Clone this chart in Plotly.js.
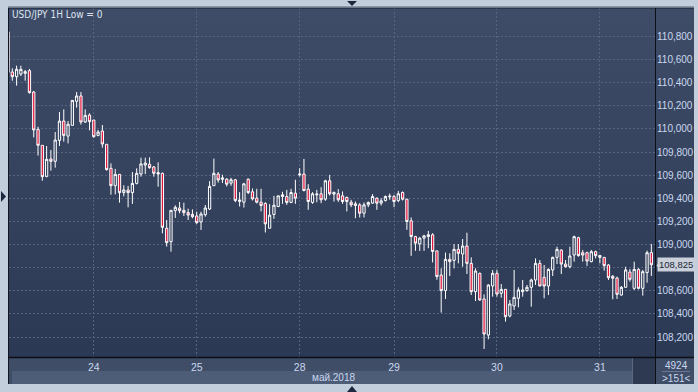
<!DOCTYPE html>
<html><head><meta charset="utf-8">
<script src="https://cdn.plot.ly/plotly-3.0.1.min.js"></script>
<style>
html,body{margin:0;padding:0;background:#c3cedc;width:698px;height:392px;overflow:hidden;}
#bg{position:absolute;left:9px;top:8px;width:685px;height:349px;background:linear-gradient(#3f4c67,#2c3954);}
#band1{position:absolute;left:9px;top:357px;width:685px;height:27px;background:#3f4d67;}
#band2{position:absolute;left:12px;top:371px;width:620px;height:13px;background:#4d5c77;}
#thumb{position:absolute;left:632px;top:358px;width:23px;height:26px;background:#2d3a52;border-left:1px solid #5a6783;box-sizing:border-box;}
#chart{position:absolute;left:0;top:0;width:698px;height:392px;}
#deco{position:absolute;left:0;top:0;pointer-events:none;}
</style></head>
<body>
<div id="bg"></div><div id="band1"></div><div id="band2"></div><div id="thumb"></div>
<div id="chart"></div>
<svg id="deco" width="698" height="392">
<polygon points="347,1 357,1 352,6" fill="#1c2740"/>
<polygon points="347,392 357,392 352,386" fill="#1c2740"/>
<polygon points="1,191 1,202 6,196.5" fill="#1c2740"/>
</svg>
<script>
// USD/JPY 1H candles (bar 0 is partly cut at the left edge)
const open = [110.840,110.492,110.452,110.475,110.481,110.504,110.319,109.996,109.858,109.587,
109.740,109.720,109.901,110.068,109.938,110.031,110.239,110.285,110.060,110.120,
110.077,109.944,109.982,109.867,109.659,109.509,109.607,109.449,109.472,109.449,
109.529,109.610,109.688,109.694,109.671,109.622,109.616,109.140,109.025,109.293,
109.316,109.296,109.276,109.261,109.247,109.195,109.258,109.307,109.509,109.610,
109.564,109.565,109.531,109.560,109.373,109.366,109.565,109.456,109.401,109.366,
109.355,109.141,109.260,109.329,109.415,109.415,109.364,109.444,109.603,109.609,
109.479,109.364,109.430,109.439,109.392,109.551,109.436,109.439,109.421,109.407,
109.366,109.352,109.343,109.271,109.343,109.358,109.401,109.358,109.381,109.413,
109.415,109.381,109.450,109.392,109.205,109.069,109.006,109.055,109.069,109.084,
108.945,108.736,108.601,108.872,108.863,108.958,108.918,108.987,108.837,108.592,
108.751,108.529,108.217,108.641,108.751,108.578,108.612,108.382,108.468,108.535,
108.592,108.601,108.630,108.693,108.837,108.716,108.641,108.780,108.889,108.952,
108.831,108.808,108.909,109.059,108.929,108.929,108.852,108.938,108.906,108.889,
108.823,108.725,108.710,108.563,108.630,108.762,108.621,108.785,108.621,108.757,
108.930];
const high = [110.850,110.524,110.547,110.547,110.510,110.519,110.328,110.019,109.858,109.852,
109.818,109.973,110.146,110.169,110.068,110.250,110.319,110.319,110.169,110.135,
110.077,109.991,110.034,109.867,109.702,109.654,109.607,109.512,109.507,109.627,
109.659,109.751,109.751,109.754,109.679,109.711,109.622,109.212,109.296,109.339,
109.368,109.362,109.310,109.304,109.284,109.284,109.342,109.549,109.743,109.627,
109.604,109.574,109.577,109.565,109.453,109.534,109.571,109.485,109.482,109.482,
109.366,109.349,109.421,109.421,109.456,109.473,109.482,109.560,109.660,109.741,
109.522,109.453,109.473,109.496,109.560,109.603,109.459,109.479,109.459,109.415,
109.387,109.372,109.358,109.364,109.372,109.436,109.407,109.401,109.424,109.441,
109.430,109.464,109.459,109.392,109.234,109.075,109.064,109.084,109.118,109.098,
108.945,108.794,108.930,108.924,109.004,109.004,109.048,109.102,108.889,108.794,
108.757,108.569,108.656,108.780,108.780,108.658,108.612,108.520,108.780,108.630,
108.693,108.650,108.705,108.880,108.866,108.823,108.794,108.895,108.981,108.958,
108.866,108.981,109.077,109.068,108.953,108.938,108.953,108.947,108.909,108.889,
108.829,108.736,108.722,108.641,108.808,108.788,108.852,108.794,108.780,108.947,
109.004];
const low = [110.480,110.417,110.374,110.458,110.417,110.305,109.927,109.769,109.552,109.587,
109.639,109.665,109.852,109.890,109.875,110.031,110.184,110.037,110.051,109.988,
109.924,109.936,109.838,109.639,109.431,109.434,109.362,109.417,109.322,109.351,
109.520,109.587,109.610,109.656,109.587,109.500,109.097,108.982,108.938,109.230,
109.270,109.247,109.212,109.227,109.178,109.126,109.241,109.299,109.509,109.535,
109.532,109.502,109.508,109.366,109.329,109.320,109.436,109.381,109.355,109.286,
109.104,109.141,109.222,109.323,109.352,109.343,109.358,109.352,109.588,109.459,
109.300,109.352,109.366,109.358,109.378,109.424,109.372,109.369,109.352,109.286,
109.323,109.228,109.234,109.234,109.323,109.352,109.300,109.338,109.372,109.387,
109.323,109.366,109.381,109.127,108.902,108.945,108.945,108.945,108.968,108.845,
108.695,108.411,108.529,108.728,108.794,108.837,108.808,108.745,108.563,108.511,
108.514,108.096,108.180,108.549,108.549,108.540,108.333,108.370,108.434,108.457,
108.549,108.592,108.462,108.650,108.641,108.535,108.563,108.728,108.831,108.745,
108.800,108.794,108.852,108.895,108.852,108.814,108.846,108.880,108.837,108.774,
108.693,108.526,108.529,108.558,108.627,108.679,108.607,108.612,108.558,108.670,
108.728];
const close = [110.490,110.452,110.516,110.515,110.495,110.314,109.991,109.858,109.587,109.737,
109.720,109.904,110.068,109.944,110.040,110.247,110.285,110.060,110.117,110.063,
109.933,109.973,109.870,109.648,109.509,109.607,109.449,109.472,109.449,109.529,
109.616,109.697,109.705,109.665,109.616,109.610,109.149,109.016,109.296,109.322,
109.293,109.276,109.255,109.241,109.189,109.264,109.316,109.503,109.616,109.558,
109.576,109.522,109.560,109.381,109.384,109.525,109.450,109.395,109.366,109.338,
109.179,109.254,109.340,109.421,109.430,109.364,109.450,109.401,109.609,109.467,
109.372,109.439,109.436,109.387,109.551,109.439,109.450,109.387,109.372,109.372,
109.343,109.338,109.271,109.343,109.364,109.415,109.358,109.378,109.415,109.418,
109.372,109.439,109.392,109.199,109.069,109.012,109.055,109.075,109.084,108.940,
108.723,108.601,108.872,108.852,108.958,108.924,108.987,108.837,108.592,108.771,
108.520,108.226,108.650,108.751,108.572,108.612,108.376,108.486,108.543,108.607,
108.607,108.630,108.693,108.837,108.641,108.641,108.785,108.889,108.958,108.831,
108.808,108.901,109.068,108.904,108.909,108.857,108.938,108.904,108.889,108.817,
108.713,108.708,108.569,108.630,108.780,108.699,108.785,108.621,108.765,108.929,
108.825];
// first hourly bar of each trading day and its label
const dayStartBar = [20, 44, 68, 90, 114, 138];
const dayLabels = ['24', '25', '28', '29', '30', '31'];
const priceTicks = [108.2, 108.4, 108.6, 108.8, 109.0, 109.2, 109.4, 109.6, 109.8, 110.0, 110.2, 110.4, 110.6, 110.8];
const titleText = 'USD/JPY 1H Low = 0';
const monthLabel = 'май.2018';
const barCountLabel = '4924';
const visibleLabel = '>151<';

const barIndex = open.map((_, i) => i);
const lastClose = close[close.length - 1];
const fmt = v => v.toFixed(3).replace('.', ',');
// the 108,800 label sits under the last-price marker, as in the original
const priceTickText = priceTicks.map(v => Math.abs(v - lastClose) < 0.06 ? '' : fmt(v));
const FONT = "'Liberation Sans',Arial,sans-serif";
const FONT_C = "'DejaVu Sans Condensed','Liberation Sans',sans-serif";
const TXT = '#c9d8f0';

const trace = {
  type: 'candlestick', x: barIndex, open: open, high: high, low: low, close: close,
  increasing: {line: {color: '#ffffff', width: 1}, fillcolor: 'rgba(0,0,0,0)'},
  decreasing: {line: {color: '#ffffff', width: 1}, fillcolor: '#e0163d'},
  whiskerwidth: 0, hoverinfo: 'skip', showlegend: false
};

const W = 646, H = 349, L = 9, T = 8;
const px = v => (v - L) / W;          // pixel -> paper x
const py = v => (T + H - v) / H;      // pixel -> paper y

const layout = {
  width: 698, height: 392,
  margin: {l: L, r: 698 - L - W, t: T, b: 392 - T - H, pad: 0},
  paper_bgcolor: 'rgba(0,0,0,0)', plot_bgcolor: 'rgba(0,0,0,0)',
  boxgap: 0.25,
  showlegend: false,
  font: {family: FONT, size: 10, color: TXT},
  xaxis: {
    range: [0.23, 150.85], tickvals: dayStartBar, ticktext: dayLabels,
    showgrid: true, gridcolor: '#56647f', griddash: '2px,2px', gridwidth: 1,
    zeroline: false, showline: false, ticks: '', ticklen: 0, ticklabelstandoff: 2,
    tickfont: {family: FONT, size: 10.5, color: TXT},
    rangeslider: {visible: false}, fixedrange: true
  },
  yaxis: {
    side: 'right', range: [108.027, 111.046], tickvals: priceTicks, ticktext: priceTickText,
    showgrid: true, gridcolor: '#56647f', griddash: '2px,2px', gridwidth: 1,
    zeroline: false, showline: false, ticks: '', ticklabelstandoff: 1,
    tickfont: {family: FONT, size: 10, color: TXT}, fixedrange: true
  },
  shapes: [
    {type: 'line', xref: 'paper', yref: 'paper', x0: px(8), x1: px(694), y0: py(6.5), y1: py(6.5), line: {color: '#8d99ab', width: 1}},
    {type: 'line', xref: 'paper', yref: 'paper', x0: px(8), x1: px(694), y0: py(8), y1: py(8), line: {color: '#1a2131', width: 1}},
    {type: 'line', xref: 'paper', yref: 'paper', x0: px(8.5), x1: px(8.5), y0: py(8), y1: py(384), line: {color: '#111722', width: 1}},
    {type: 'line', xref: 'paper', yref: 'paper', x0: px(655.5), x1: px(655.5), y0: py(8), y1: py(384), line: {color: '#0c0f16', width: 1}},
    {type: 'line', xref: 'paper', yref: 'paper', x0: px(8), x1: px(694), y0: py(357.5), y1: py(357.5), line: {color: '#0c0f16', width: 1.5}},
    {type: 'line', xref: 'paper', yref: 'paper', x0: px(662), x1: px(690), y0: py(371.5), y1: py(371.5), line: {color: '#6c7893', width: 1}},
    {type: 'path', xref: 'paper', yref: 'paper',
     path: 'M ' + px(656.5) + ' ' + py(265.5) + ' L ' + px(660) + ' ' + py(260.5) + ' L ' + px(660) + ' ' + py(270.5) + ' Z',
     fillcolor: '#c9d0da', line: {width: 0}}
  ],
  annotations: [
    {xref: 'paper', yref: 'paper', x: px(10), y: py(15), xanchor: 'left', yanchor: 'middle', showarrow: false,
     text: titleText, font: {family: FONT_C, size: 10, color: '#dde5f0'}},
    {xref: 'paper', yref: 'paper', x: px(333.5), y: py(377), xanchor: 'center', yanchor: 'middle', showarrow: false,
     text: monthLabel, font: {family: FONT, size: 10, color: TXT}},
    {xref: 'paper', yref: 'paper', x: px(676), y: py(365), xanchor: 'center', yanchor: 'middle', showarrow: false,
     text: barCountLabel, font: {family: FONT, size: 10, color: TXT}},
    {xref: 'paper', yref: 'paper', x: px(676), y: py(378), xanchor: 'center', yanchor: 'middle', showarrow: false,
     text: visibleLabel, font: {family: FONT, size: 10, color: TXT}},
    {xref: 'paper', yref: 'y', x: px(676), y: lastClose, xanchor: 'center', yanchor: 'middle', showarrow: false,
     text: fmt(lastClose), bgcolor: '#c9d0da', borderpad: 1,
     font: {family: FONT, size: 9.5, color: '#1d2636'}}
  ]
};

Plotly.newPlot('chart', [trace], layout, {staticPlot: true, displayModeBar: false});
</script>
</body></html>
